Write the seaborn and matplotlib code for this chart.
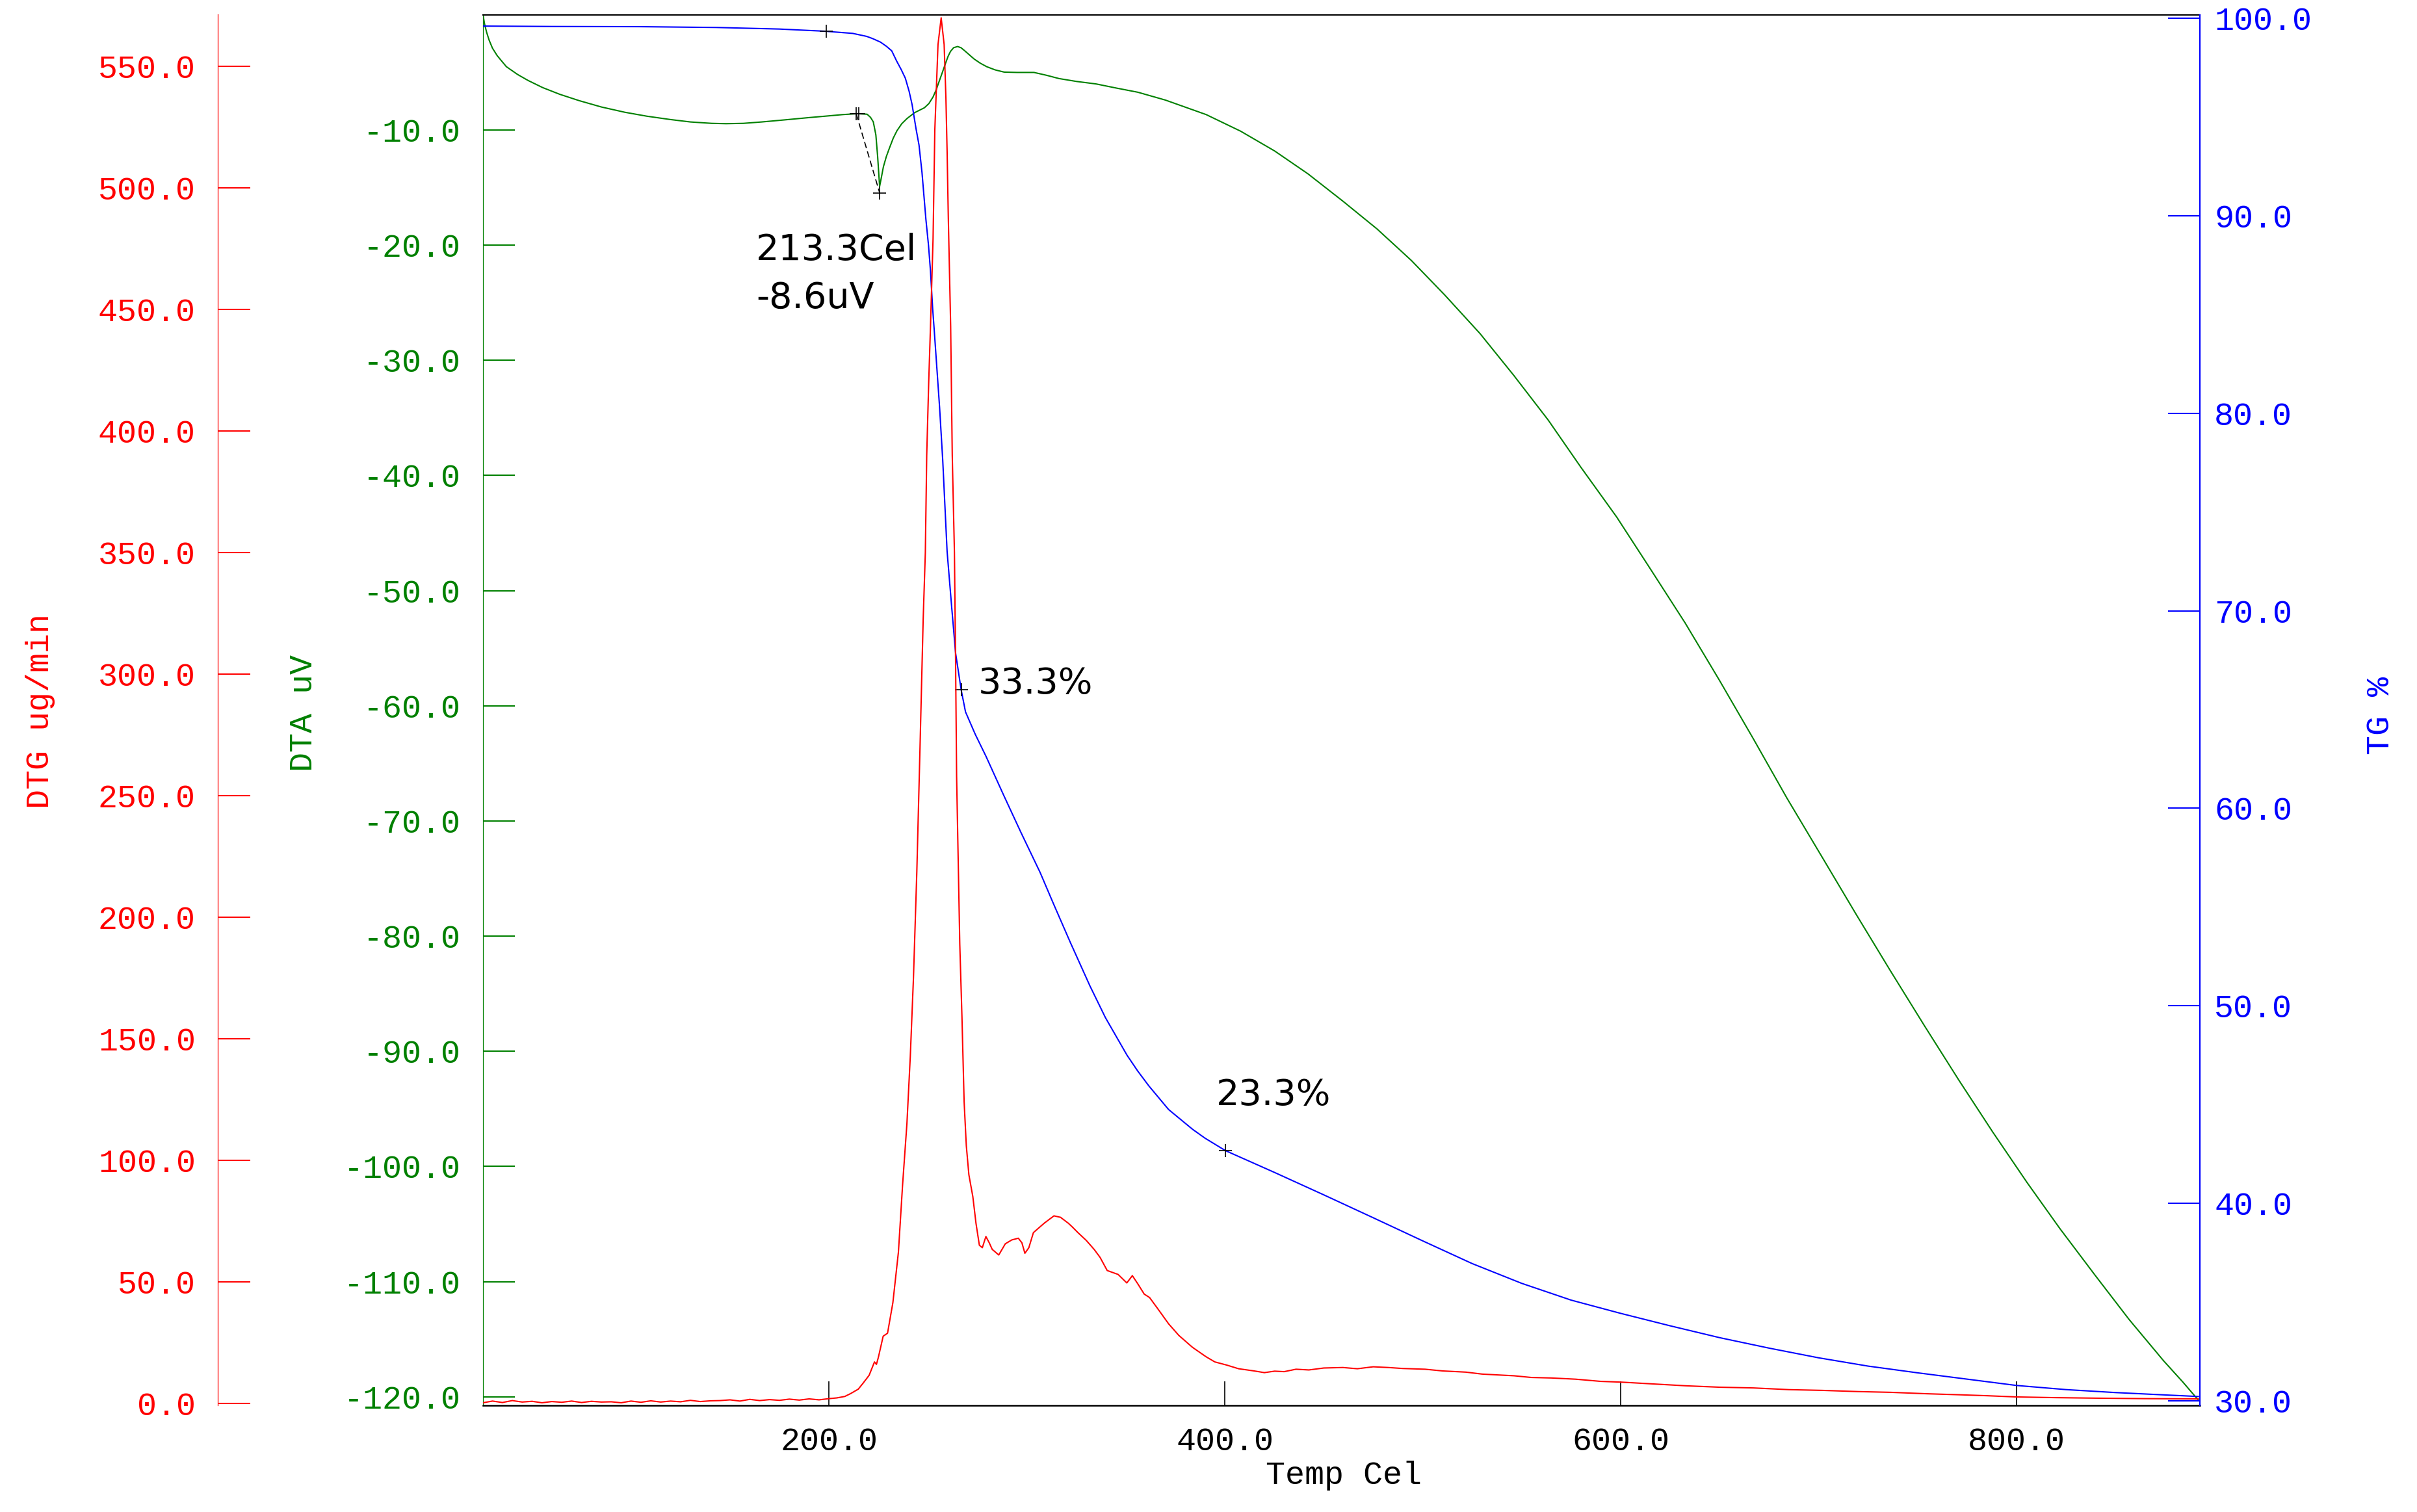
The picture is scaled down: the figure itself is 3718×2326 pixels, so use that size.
import numpy as np
import pandas as pd
import matplotlib
matplotlib.use("Agg")
import matplotlib.pyplot as plt
import seaborn as sns
from matplotlib.ticker import FuncFormatter, FixedLocator

# ---------------- data ----------------
# TG (%) vs temperature
tg_temp = [25.2, 60, 104, 143, 175, 198, 212, 219, 222, 226, 229, 231.7, 234.2, 236.5,
           238.6, 240.5, 242, 244, 245.5, 247, 249.0, 250.3, 251.3, 252.4, 253.2, 255.9,
           257.5, 259.7, 262, 264.0, 266.8, 269.0, 273.9, 279.4, 288.1, 296.9, 306.7,
           313.3, 322.0, 331.9, 339.7, 350.6, 356, 361.6, 371.6, 383.7, 390, 400.3,
           425, 450, 475, 500, 525, 550, 575, 600, 625, 650, 675, 700, 725, 750, 775,
           800, 825, 850, 875, 892]
tg_val = [99.60, 99.58, 99.57, 99.53, 99.45, 99.34, 99.23, 99.08, 98.97, 98.79, 98.58,
          98.35, 97.83, 97.40, 96.96, 96.30, 95.63, 94.40, 93.58, 92.20, 89.80, 88.50,
          87.20, 85.30, 84.20, 80.30, 77.60, 73.00, 70.20, 67.85, 66.00, 64.88, 63.75,
          62.62, 60.70, 58.80, 56.75, 55.20, 53.20, 51.00, 49.40, 47.50, 46.70, 45.95,
          44.75, 43.75, 43.30, 42.67, 41.57, 40.43, 39.27, 38.10, 36.95, 35.95, 35.10,
          34.43, 33.80, 33.20, 32.67, 32.18, 31.76, 31.42, 31.10, 30.78, 30.57, 30.42,
          30.30, 30.22]

# DTA (uV) vs temperature
dta_temp = [25.2, 26.0, 27.0, 28.3, 30, 32.4, 37, 42.7, 48, 55.4, 64, 73.8, 85, 96.9, 108,
            119.9, 130, 140.7, 148, 156.8, 166, 177.6, 190, 200.6, 207, 214.4, 219.3, 221,
            222.4, 223.7, 224.6, 225.6, 226.4, 227.5, 229, 230.6, 232.5, 234.4, 236.8,
            239.4, 243.2, 248.2, 250.5, 252.6, 254.2, 255.8, 257.4, 258.9, 260.2, 261.4,
            263, 265.0, 266.7, 268.4, 270.8, 273.4, 276.5, 279.7, 284, 288.5, 295, 303.6,
            310, 316.2, 325, 335.0, 345, 356.1, 370, 390.6, 408, 425.2, 442, 459.7, 477,
            494.3, 511, 528.9, 546, 563.4, 580, 598.0, 615, 632.6, 650, 667.2, 684, 701.7,
            719, 736.3, 753.6, 770.9, 788, 805.4, 822, 840.0, 857, 874.5, 884, 892]
dta_val = [0.0, -0.8, -1.5, -2.2, -2.9, -3.55, -4.5, -5.18, -5.7, -6.32, -6.9, -7.45, -8.0,
           -8.46, -8.8, -9.09, -9.3, -9.42, -9.45, -9.42, -9.3, -9.12, -8.92, -8.76, -8.66,
           -8.58, -8.63, -8.9, -9.29, -10.42, -12.3, -14.9, -14.2, -13.2, -12.3, -11.55,
           -10.7, -10.05, -9.45, -9.01, -8.5, -8.07, -7.7, -7.13, -6.5, -5.72, -4.95, -4.21,
           -3.6, -3.18, -2.85, -2.75, -2.85, -3.09, -3.45, -3.84, -4.2, -4.5, -4.78, -4.97,
           -5.0, -5.0, -5.25, -5.53, -5.78, -6.0, -6.35, -6.72, -7.4, -8.66, -10.1, -11.82,
           -13.8, -16.18, -18.6, -21.33, -24.3, -27.66, -31.3, -35.18, -39.3, -43.6, -48.1,
           -52.8, -57.8, -62.9, -68.0, -73.1, -78.1, -83.0, -87.8, -92.5, -97.0, -101.4,
           -105.4, -109.5, -113.3, -116.9, -118.7, -120.3]

# DTG (ug/min) vs temperature
dtg_temp = [25.2, 30, 35, 40, 45, 50, 55, 60, 65, 70, 75, 80, 85, 90, 95, 100, 105, 110,
            115, 120, 125, 130, 135, 140, 145, 150, 155, 160, 165, 170, 175, 180, 185, 190,
            195, 200, 204, 208, 211, 214.8, 217, 220.3, 223, 224, 225, 227.4, 229.6, 232.3,
            235.1, 237.2, 239.4, 241.1, 242.7, 244.4, 246.0, 247.6, 248.7, 249.4, 250.4,
            251.3, 252.6, 253.5, 255.1, 256.7, 258.2, 259.1, 259.7, 260.3, 261.0, 261.5,
            262.3, 263.4, 264.0, 264.5, 265.3, 266.1, 267.2, 268.3, 269.4, 270.7, 272.7,
            274.3, 276.0, 277.5, 279.3, 281, 282.5, 285.8, 289.1, 292.4, 295.7, 297.5, 299.0,
            301, 303.3, 308.8, 313.7, 317, 320.9, 323, 325.8, 330, 334.0, 337, 340.6, 346.1,
            350.5, 353.3, 356, 359.3, 362, 366.4, 371.6, 376.8, 383.7, 390.6, 395, 401.0,
            407, 414.8, 420, 425.2, 430, 436, 442.5, 450, 459.7, 467, 475, 482.7, 490, 501.2,
            510, 521.9, 530, 546.2, 555, 565, 577.3, 590, 600.1, 615, 632.6, 650, 667.2, 685,
            701.7, 720, 736.3, 755, 770.9, 785, 800, 820, 840, 865, 892]
dtg_val = [0.2, 0.9, 0.3, 1.1, 0.5, 0.8, 0.2, 0.7, 0.4, 0.9, 0.3, 0.8, 0.5, 0.6, 0.2, 0.9,
           0.4, 1.0, 0.5, 0.9, 0.6, 1.2, 0.7, 1.0, 1.1, 1.4, 0.9, 1.6, 1.1, 1.5, 1.2, 1.7,
           1.3, 1.8, 1.4, 1.9, 2.2, 2.8, 4.0, 5.8, 8.0, 11.5, 17.0, 16.0, 19.0, 27.6, 28.8,
           41.4, 62.2, 89.8, 115.1, 142.7, 175.0, 218.7, 269.4, 322.3, 350.0, 390.0, 420.0,
           443.0, 479.0, 524.0, 559.0, 570.0, 559.0, 537.0, 515.0, 488.0, 461.0, 443.0,
           390.0, 350.0, 304.0, 258.0, 223.0, 189.0, 159.0, 124.0, 106.0, 94.0, 85.0, 74.0,
           65.0, 64.0, 68.6, 66.0, 63.3, 61.0, 65.6, 67.2, 67.9, 66.0, 61.7, 64.0, 70.2,
           74.1, 77.1, 76.5, 74.1, 72.5, 70.2, 67.0, 63.3, 60.0, 54.6, 53.0, 49.5, 52.5,
           49.2, 44.9, 43.5, 38.6, 32.7, 27.9, 23.0, 19.1, 17.0, 15.7, 14.2, 13.3, 12.6,
           13.2, 13.0, 14.0, 13.7, 14.5, 14.7, 14.2, 15.0, 14.7, 14.3, 14.0, 13.3, 12.8,
           12.0, 11.3, 10.6, 10.4, 9.9, 9.0, 8.7, 8.0, 7.2, 6.6, 6.3, 5.6, 5.3, 4.8, 4.5,
           3.9, 3.5, 3.1, 2.6, 2.3, 2.1, 1.9, 1.8]

# markers / annotations
tg_mark_temp = [198.5, 266.8, 400.3]
tg_mark_val = [99.33, 66.0, 42.67]
dta_mark_temp = [213.8, 215.1, 225.6]
dta_mark_val = [-8.6, -8.6, -15.45]
dta_base_temp = [213.8, 225.6]
dta_base_val = [-8.6, -15.45]
peak_labels = ["213.3Cel", "-8.6uV"]
tg_labels = ["33.3%", "23.3%"]

x_ticks = [200, 400, 600, 800]
dta_ticks = list(range(-10, -121, -10))
dtg_ticks = list(range(0, 551, 50))
tg_ticks = list(range(30, 101, 10))

RED, GREEN, BLUE = "#FF0000", "#008000", "#0000FF"

# ---------------- figure ----------------
sns.set_style("white")
plt.rcParams["font.family"] = ["Liberation Mono", "DejaVu Sans Mono"]

W, H = 3718, 2326
fig = plt.figure(figsize=(W / 100, H / 100), dpi=100)
left, right, top, bottom = 743, 3384, 22.5, 2161.7
ax = fig.add_axes([left / W, 1 - bottom / H, (right - left) / W, (bottom - top) / H])
ax_tg = ax.twinx()
ax_dtg = ax.twinx()

df_dta = pd.DataFrame({"Temp": dta_temp, "DTA": dta_val})
df_tg = pd.DataFrame({"Temp": tg_temp, "TG": tg_val})
df_dtg = pd.DataFrame({"Temp": dtg_temp, "DTG": dtg_val})

sns.lineplot(data=df_dta, x="Temp", y="DTA", ax=ax, color=GREEN, linewidth=1.5,
             estimator=None, sort=False)
sns.lineplot(data=df_tg, x="Temp", y="TG", ax=ax_tg, color=BLUE, linewidth=1.5,
             estimator=None, sort=False)
sns.lineplot(data=df_dtg, x="Temp", y="DTG", ax=ax_dtg, color=RED, linewidth=1.5,
             estimator=None, sort=False)

# marks
ax_tg.plot(tg_mark_temp, tg_mark_val, linestyle="none", marker="+", ms=15, mew=1.2, color="black")
ax.plot(dta_mark_temp, dta_mark_val, linestyle="none", marker="+", ms=15, mew=1.2, color="black")
ax.plot(dta_base_temp, dta_base_val, linestyle=(0, (6, 3)), lw=1.2, color="black")

# limits
for a in (ax, ax_tg, ax_dtg):
    a.set_xlim(25.2, 892.7)
ax.set_ylim(-120.73, 0.02)
ax_tg.set_ylim(29.78, 100.18)
ax_dtg.set_ylim(-0.8, 571.3)

fmt = FuncFormatter(lambda v, p: f"{v:.1f}")
TICK_FS = 36

# x axis
ax.xaxis.set_major_locator(FixedLocator(x_ticks))
ax.xaxis.set_major_formatter(fmt)
ax.tick_params(axis="x", direction="in", length=27, width=1.2, colors="black",
               labelsize=TICK_FS, pad=24, top=False, bottom=True)

# DTA axis (green, left of plot)
ax.yaxis.set_major_locator(FixedLocator(dta_ticks))
ax.yaxis.set_major_formatter(fmt)
ax.tick_params(axis="y", direction="in", length=35, width=1.5, colors=GREEN,
               labelsize=TICK_FS, pad=24.5, left=True, right=False)

# TG axis (blue, right)
ax_tg.yaxis.set_major_locator(FixedLocator(tg_ticks))
ax_tg.yaxis.set_major_formatter(fmt)
ax_tg.tick_params(axis="y", direction="in", length=35, width=1.5, colors=BLUE,
                  labelsize=TICK_FS, pad=16, left=False, right=True)

# DTG axis (red, detached left)
ax_dtg.yaxis.set_ticks_position("left")
ax_dtg.yaxis.set_label_position("left")
ax_dtg.spines["left"].set_position(("axes", (335 - left) / (right - left)))
ax_dtg.yaxis.set_major_locator(FixedLocator(dtg_ticks))
ax_dtg.yaxis.set_major_formatter(fmt)
ax_dtg.tick_params(axis="y", direction="in", length=36, width=1.5, colors=RED,
                   labelsize=TICK_FS, pad=24.5, left=True, right=False)

for a in (ax, ax_tg, ax_dtg):
    a.set_xlabel("")
    a.set_ylabel("")
    for s in a.spines.values():
        s.set_visible(False)

ax.spines["top"].set_visible(True)
ax.spines["top"].set_color("black")
ax.spines["top"].set_linewidth(1.5)
ax.spines["bottom"].set_visible(True)
ax.spines["bottom"].set_color("black")
ax.spines["bottom"].set_linewidth(1.8)
ax.spines["left"].set_visible(True)
ax.spines["left"].set_color(GREEN)
ax.spines["left"].set_linewidth(0.9)
ax_tg.spines["right"].set_visible(True)
ax_tg.spines["right"].set_color(BLUE)
ax_tg.spines["right"].set_linewidth(1.6)
ax_dtg.spines["left"].set_visible(True)
ax_dtg.spines["left"].set_color(RED)
ax_dtg.spines["left"].set_linewidth(0.9)

# axis titles
ax.text((62 - left) / (right - left), 0.499, "DTG ug/min", transform=ax.transAxes,
        rotation=90, ha="center", va="center", color=RED, fontsize=TICK_FS)
ax.text((467 - left) / (right - left), 0.4975, "DTA uV", transform=ax.transAxes,
        rotation=90, ha="center", va="center", color=GREEN, fontsize=TICK_FS)
ax.text((3662 - left) / (right - left), 0.4958, "TG %", transform=ax.transAxes,
        rotation=90, ha="center", va="center", color=BLUE, fontsize=TICK_FS)
ax.text(0.5012, -0.0506, "Temp Cel", transform=ax.transAxes,
        ha="center", va="center", color="black", fontsize=TICK_FS)

# annotations
ann_font = ["DejaVu Sans"]
ax.text(163.2, -21.28, peak_labels[0], ha="left", va="baseline", fontsize=40,
        family=ann_font, color="black")
ax.text(163.2, -25.45, peak_labels[1], ha="left", va="baseline", fontsize=40,
        family=ann_font, color="black")
ax_tg.text(275.5, 65.81, tg_labels[0], ha="left", va="baseline", fontsize=40,
           family=ann_font, color="black")
ax_tg.text(395.8, 44.98, tg_labels[1], ha="left", va="baseline", fontsize=40,
           family=ann_font, color="black")

fig.savefig("out.png", dpi=100, facecolor="white")
